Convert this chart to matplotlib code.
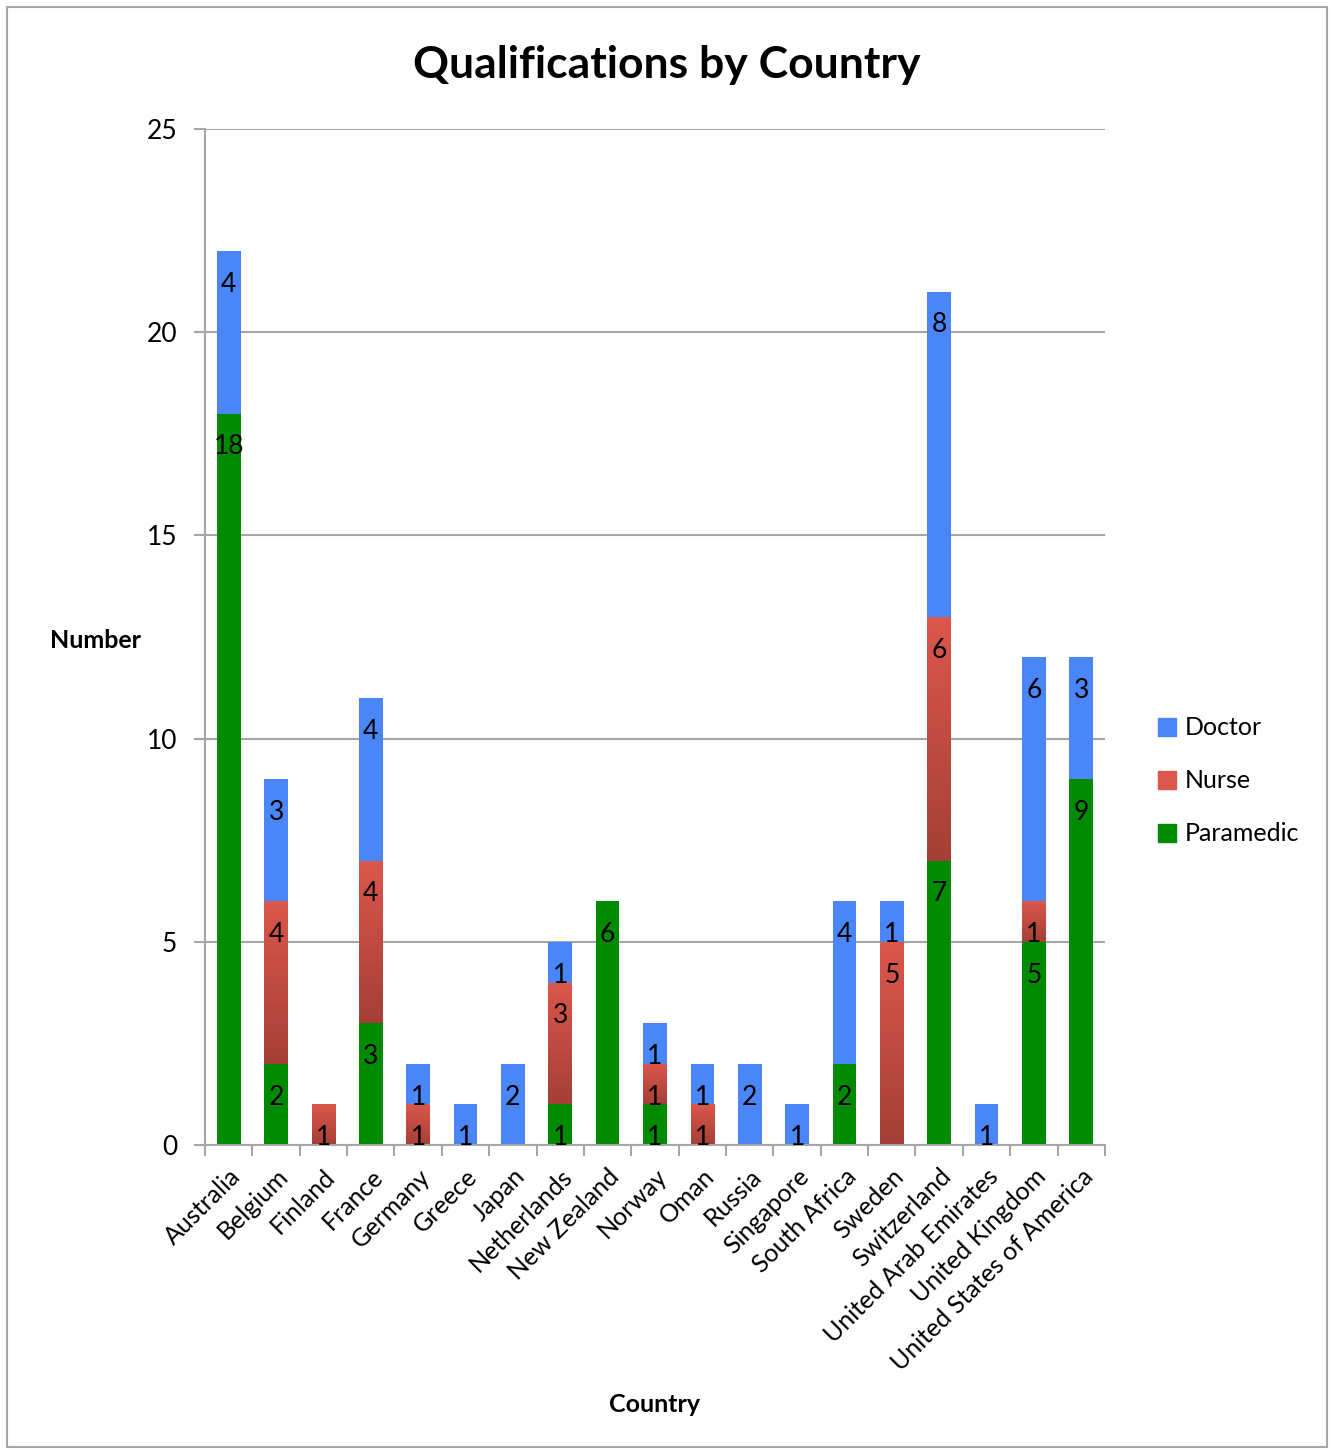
import matplotlib.pyplot as plt
import numpy as np
from matplotlib.colors import LinearSegmentedColormap
from matplotlib.patches import Rectangle, Patch

plt.rcParams['font.family'] = ['Lato', 'DejaVu Sans']

countries = ['Australia', 'Belgium', 'Finland', 'France', 'Germany', 'Greece',
             'Japan', 'Netherlands', 'New Zealand', 'Norway', 'Oman', 'Russia',
             'Singapore', 'South Africa', 'Sweden', 'Switzerland',
             'United Arab Emirates', 'United Kingdom', 'United States of America']
paramedic = [18, 2, 0, 3, 0, 0, 0, 1, 6, 1, 0, 0, 0, 2, 0, 7, 0, 5, 9]
nurse = [0, 4, 1, 4, 1, 0, 0, 3, 0, 1, 1, 0, 0, 0, 5, 6, 0, 1, 0]
doctor = [4, 3, 0, 4, 1, 1, 2, 1, 0, 1, 1, 2, 1, 4, 1, 8, 1, 6, 3]

blue = '#4a86f7'
green = '#008a00'
red_top = '#dc574c'
red_bottom = '#a43f37'

fig = plt.figure(figsize=(13.34, 14.5), dpi=100)
ax = fig.add_axes([0.1537, 0.2103, 0.6746, 0.7007])

x = np.arange(len(countries))
w = 0.5
paramedic = np.array(paramedic)
nurse = np.array(nurse)
doctor = np.array(doctor)

ax.bar(x, paramedic, w, color=green, zorder=3)
# nurse bars get a vertical gradient, drawn as images clipped to the bar boxes
nurse_bars = ax.bar(x, nurse, w, bottom=paramedic, color='none', zorder=3)
cmap = LinearSegmentedColormap.from_list('nurse', [red_bottom, red_top])
grad = np.linspace(0, 1, 256).reshape(-1, 1)
for b, n in zip(nurse_bars, nurse):
    if n == 0:
        continue
    y0 = b.get_y()
    ax.imshow(grad, cmap=cmap, origin='lower', aspect='auto', zorder=3,
              extent=(b.get_x(), b.get_x() + w, y0, y0 + n))
ax.bar(x, doctor, w, bottom=paramedic + nurse, color=blue, zorder=3)

# value labels just inside the top of each segment
for series, base in ((paramedic, 0), (nurse, paramedic), (doctor, paramedic + nurse)):
    tops = base + series
    for xi, v, t in zip(x, series, tops):
        if v == 0:
            continue
        ax.annotate(str(v), (xi, t), xytext=(0, -24), textcoords='offset points',
                    ha='center', va='center', fontsize=19, zorder=5)

ax.set_xlim(-0.5, len(countries) - 0.5)
ax.set_ylim(0, 25)
ax.set_yticks(range(0, 26, 5))
ax.grid(axis='y', color='#a6a6a6', lw=1.5, zorder=1)
ax.set_axisbelow(True)
for s in ('top', 'right'):
    ax.spines[s].set_visible(False)
for s in ('left', 'bottom'):
    ax.spines[s].set_color('#a6a6a6')
    ax.spines[s].set_linewidth(1.5)
    ax.spines[s].set_zorder(4)

ax.set_xticks(x)
ax.set_xticklabels(countries, rotation=45, ha='right', rotation_mode='anchor',
                   fontsize=18)
ax.set_xticks(np.arange(-0.5, len(countries)), minor=True)
ax.tick_params(axis='x', which='major', length=0, pad=14)
ax.tick_params(axis='x', which='minor', length=8, width=1.5, color='#a6a6a6',
               direction='out')
ax.tick_params(axis='y', length=8, width=1.5, color='#a6a6a6', labelsize=19, pad=12)

fig.text(0.5, 0.955, 'Qualifications by Country', ha='center', va='center',
         fontsize=32, fontweight='bold')
fig.text(95 / 1334, 1 - 640 / 1450, 'Number', ha='center', va='center',
         fontsize=18, fontweight='bold')
fig.text(655 / 1334, 1 - 1404 / 1450, 'Country', ha='center', va='center',
         fontsize=18, fontweight='bold')

handles = [Patch(color=blue), Patch(color=red_top), Patch(color=green)]
fig.legend(handles, ['Doctor', 'Nurse', 'Paramedic'], loc='upper left',
           bbox_to_anchor=(1135 / 1334, 1 - 694 / 1450), frameon=False,
           fontsize=18, handlelength=0.75, handleheight=0.75, handletextpad=0.35,
           labelspacing=1.2)

fig.patches.append(Rectangle((0.005, 0.002), 0.99, 0.993, transform=fig.transFigure,
                             fill=False, ec='#a6a6a6', lw=1.5))

fig.savefig('out.png', dpi=100)
